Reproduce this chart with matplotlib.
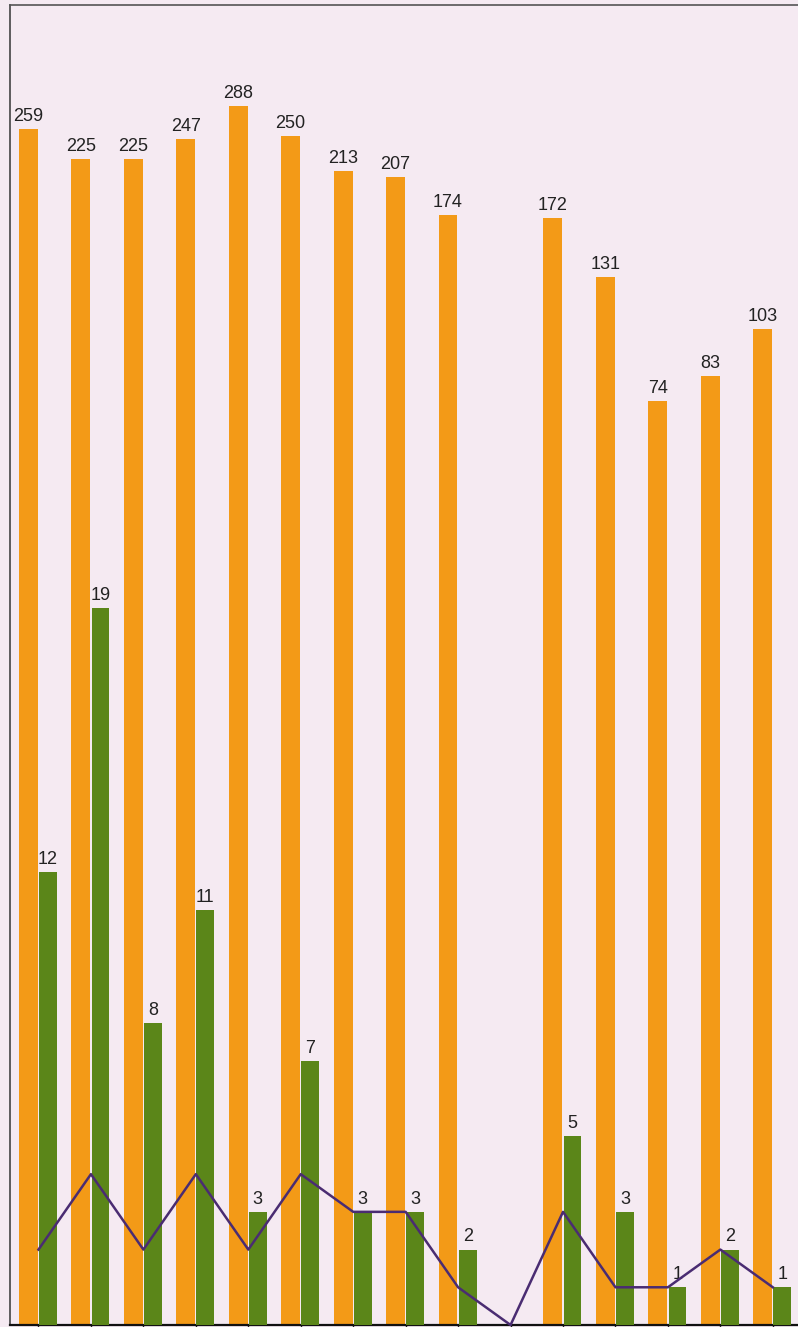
import numpy as np
import matplotlib
matplotlib.use("Agg")
import matplotlib.pyplot as plt
from matplotlib.ticker import NullLocator

# Data
orange_vals = [259, 225, 225, 247, 288, 250, 213, 207, 174, None, 172, 131, 74, 83, 103]
green_vals = [12, 19, 8, 11, 3, 7, 3, 3, 2, 0, 5, 3, 1, 2, 1]
line_vals = [2, 4, 2, 4, 2, 4, 3, 3, 1, 0, 3, 1, 1, 2, 1]

ORANGE = "#f39a17"
GREEN = "#5b8619"
PURPLE = "#4a2c72"
BG = "#f5eaf2"
TXT = "#222222"

plt.rcParams["font.family"] = ["Liberation Sans", "DejaVu Sans"]

W, H = 798, 1327
fig = plt.figure(figsize=(W / 100, H / 100), dpi=100)
fig.patch.set_facecolor(BG)

left = 10 / W
bottom = 2 / H
top = (H - 5) / H
ax = fig.add_axes([left, bottom, 1.0 - left, top - bottom])
ax.set_facecolor(BG)

n = len(orange_vals)
x = np.arange(n)
bw = 0.36
gap = 0.012

# Orange bars (log scale)
ox = np.array([xi for xi, v in zip(x, orange_vals) if v is not None])
ov = [v for v in orange_vals if v is not None]
ax.bar(ox - gap - bw, ov, width=bw, align="edge", color=ORANGE,
       edgecolor="none", zorder=2)
ax.set_yscale("log")
ax.set_ylim(1.05, 458)
ax.set_xlim(-0.543, 14.48)
for xi, v in zip(ox, ov):
    ax.annotate(str(v), (xi - gap - bw / 2, v), xytext=(0, 3), textcoords="offset points",
                ha="center", va="bottom", fontsize=13, color=TXT)

# Green bars + line on linear twin axis
ax2 = ax.twinx()
gx = np.array([xi for xi, v in zip(x, green_vals) if v > 0])
gv = [v for v in green_vals if v > 0]
gw = bw - 0.02
ax2.bar(gx + gap, gv, width=gw, align="edge", color=GREEN,
        edgecolor="none", zorder=2)
for xi, v in zip(gx, gv):
    ax2.annotate(str(v), (xi + gap + gw / 2, v), xytext=(0, 3),
                 textcoords="offset points", ha="center", va="bottom",
                 fontsize=13, color=TXT)
ax2.plot(x, line_vals, color=PURPLE, lw=1.8, zorder=3, clip_on=False)
ax2.set_ylim(0, 35)
ax2.set_xlim(-0.543, 14.48)

for a in (ax, ax2):
    a.yaxis.set_major_locator(NullLocator())
    a.yaxis.set_minor_locator(NullLocator())

ax.set_xticks(x)
ax.set_xticklabels([])
ax.tick_params(axis="x", direction="out", length=3, width=1, color=TXT)
ax2.tick_params(axis="x", length=0)

ax.spines["right"].set_visible(False)
ax.spines["left"].set_color("#444444")
ax.spines["top"].set_color("#555555")
ax.spines["bottom"].set_color("#111111")
ax.spines["left"].set_linewidth(1.2)
ax.spines["top"].set_linewidth(1.2)
ax.spines["bottom"].set_linewidth(1.6)
for s in ax2.spines.values():
    s.set_visible(False)

fig.savefig("out.png", dpi=100, facecolor=BG)
